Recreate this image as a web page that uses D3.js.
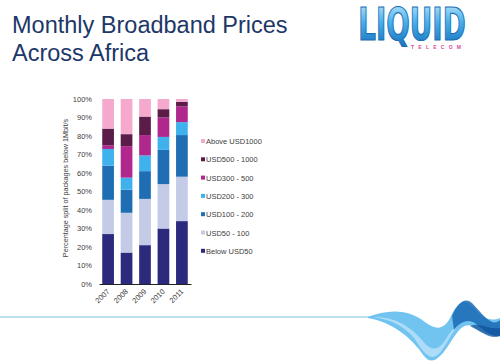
<!DOCTYPE html>
<html>
<head>
<meta charset="utf-8">
<script src="https://cdn.jsdelivr.net/npm/d3@7"></script>
<style>
  body { margin: 0; background: #fff; }
  svg { display: block; font-family: "Liberation Sans", Arial, sans-serif; }
</style>
</head>
<body>
<div id="chart"></div>
<script>
var years = ["2007", "2008", "2009", "2010", "2011"];
var bands = ["Below USD50", "USD50 - 100", "USD100 - 200", "USD200 - 300",
             "USD300 - 500", "USD500 - 1000", "Above USD1000"];
var colors = ["#2b2a7c", "#c4cbe7", "#1f6db2", "#3fb2ee", "#b0278e", "#5b1c49", "#f4a9cd"];

// percentage share of each band per year
var below50   = [27.0, 17.0, 21.0, 30.0, 34.0];
var usd50     = [18.5, 21.5, 25.0, 24.0, 24.0];
var usd100    = [18.5, 12.5, 15.0, 18.5, 22.5];
var usd200    = [9.0, 6.5, 8.5, 7.0, 7.0];
var usd300    = [2.0, 17.0, 11.0, 10.5, 8.5];
var usd500    = [9.0, 6.5, 10.0, 4.5, 2.5];
var above1000 = [16.0, 19.0, 9.5, 5.5, 1.5];
var series = [below50, usd50, usd100, usd200, usd300, usd500, above1000];

var yTicks = [0, 10, 20, 30, 40, 50, 60, 70, 80, 90, 100];

var W = 500, H = 362;
var svg = d3.select('#chart')
  .append('svg')
    .attr('width', W)
    .attr('height', H);

var defs = svg.append('defs');
var g1 = defs.append('linearGradient').attr('id', 'logoGrad')
  .attr('x1', 0).attr('y1', 0).attr('x2', 0).attr('y2', 1);
g1.append('stop').attr('offset', '0%').attr('stop-color', '#c9ecfc');
g1.append('stop').attr('offset', '45%').attr('stop-color', '#46b0ea');
g1.append('stop').attr('offset', '100%').attr('stop-color', '#1468b4');

// title
svg.append('text')
  .attr('x', 12).attr('y', 33)
  .style('font-size', '23.5px')
  .style('fill', '#1d3768')
  .text('Monthly Broadband Prices');
svg.append('text')
  .attr('x', 12).attr('y', 61)
  .style('font-size', '23.5px')
  .style('fill', '#1d3768')
  .text('Across Africa');

// logo
svg.append('text')
  .attr('transform', 'translate(412,40) scale(0.7,1)')
  .attr('text-anchor', 'middle')
  .style('font-family', '"DejaVu Sans Condensed", "DejaVu Sans", sans-serif')
  .style('font-weight', 'bold')
  .style('font-size', '44px')
  .style('fill', 'url(#logoGrad)')
  .style('stroke', '#1c6fb8')
  .style('stroke-width', 1.2)
  .text('LIQUID');
svg.append('text')
  .attr('x', 436).attr('y', 49)
  .attr('text-anchor', 'middle')
  .attr('textLength', 50)
  .style('font-size', '5px')
  .style('font-weight', 'bold')
  .style('fill', '#e0479a')
  .text('TELECOM');

// chart
var rows = years.map(function (y, i) {
  var r = { year: y };
  bands.forEach(function (b, j) { r[b] = series[j][i] / 100; });
  return r;
});
var stacked = d3.stack().keys(bands)(rows);

var x = d3.scaleBand()
  .domain(years)
  .range([99, 191])
  .paddingInner(0.366)
  .paddingOuter(0.176);
var y = d3.scaleLinear()
  .domain([0, 1])
  .range([284, 99]);

var layers = svg.selectAll('g.layer')
  .data(stacked)
  .enter()
    .append('g')
      .classed('layer', true)
      .style('fill', function (d, i) { return colors[i]; });
layers.selectAll('rect')
  .data(function (d) { return d; })
  .enter()
    .append('rect')
      .attr('x', function (d) { return x(d.data.year); })
      .attr('y', function (d) { return y(d[1]); })
      .attr('width', x.bandwidth())
      .attr('height', function (d) { return y(d[0]) - y(d[1]); });

// y axis labels
var yAxis = svg.append('g')
  .attr('transform', 'translate(95,0)')
  .call(d3.axisLeft(y)
    .tickValues(yTicks.map(function (t) { return t / 100; }))
    .tickFormat(function (d) { return Math.round(d * 100) + '%'; })
    .tickSize(0)
    .tickPadding(3));
yAxis.select('.domain').remove();
yAxis.selectAll('text')
  .style('font-size', '7.5px')
  .style('fill', '#404040');

// x axis
var xAxis = svg.append('g')
  .attr('transform', 'translate(0,284)')
  .call(d3.axisBottom(x).tickSize(0).tickPadding(0));
xAxis.select('.domain')
  .attr('stroke', '#222')
  .attr('stroke-width', 1);
xAxis.selectAll('text')
  .attr('text-anchor', 'end')
  .attr('dy', 0)
  .attr('transform', 'translate(2,8) rotate(-45)')
  .style('font-size', '7.5px')
  .style('fill', '#404040');

svg.append('text')
  .attr('transform', 'translate(68,188) rotate(-90)')
  .attr('text-anchor', 'middle')
  .style('font-size', '7.2px')
  .style('fill', '#404040')
  .text('Percentage split of packages below 1Mbit/s');

// legend, top entry first
var legend = svg.selectAll('g.legend')
  .data(bands.slice().reverse())
  .enter()
    .append('g')
      .classed('legend', true)
      .attr('transform', function (d, i) {
        return 'translate(201,' + (141.5 + i * 18.3) + ')';
      });
legend.append('rect')
  .attr('x', 0).attr('y', -2.5)
  .attr('width', 4).attr('height', 4)
  .style('fill', function (d) { return colors[bands.indexOf(d)]; });
legend.append('text')
  .attr('x', 5).attr('y', 2.5)
  .style('font-size', '7.5px')
  .style('fill', '#404040')
  .text(function (d) { return d; });

// footer line and wave
svg.append('line')
  .attr('x1', 0).attr('x2', 375)
  .attr('y1', 317).attr('y2', 317)
  .attr('stroke', '#a9d3ee')
  .attr('stroke-width', 1.5);

var waves = [
  { d: 'M368,317 C385,311 405,307 425,322 C437,331 445,330 452,314 C458,302 466,298 474,308 C482,318 490,322 500,318 L500,334 C490,338 482,332 472,326 C462,322 456,334 448,346 C440,358 432,366 424,356 C412,338 392,322 368,318 Z', c: '#62bcee', o: 0.9 },
  { d: 'M372,317 C394,316 410,326 422,340 C430,350 436,352 444,342 C448,336 452,328 458,326 C450,334 444,352 436,356 C428,360 422,350 414,338 C404,326 390,319 372,317 Z', c: '#b6e0f8', o: 0.85 },
  { d: 'M452,316 C458,302 465,297 472,303 C478,309 484,318 492,322 C495,323 498,322 500,320 L500,336 C492,338 484,330 476,324 C468,318 460,322 454,330 Z', c: '#1a6ab6', o: 0.85 },
  { d: 'M470,326 C480,322 488,330 500,328 L500,336 C490,340 482,332 470,326 Z', c: '#0e4f98', o: 0.7 }
];
svg.selectAll('path.wave')
  .data(waves)
  .enter()
    .append('path')
      .classed('wave', true)
      .attr('d', function (d) { return d.d; })
      .style('fill', function (d) { return d.c; })
      .style('opacity', function (d) { return d.o; });
</script>
</body>
</html>
